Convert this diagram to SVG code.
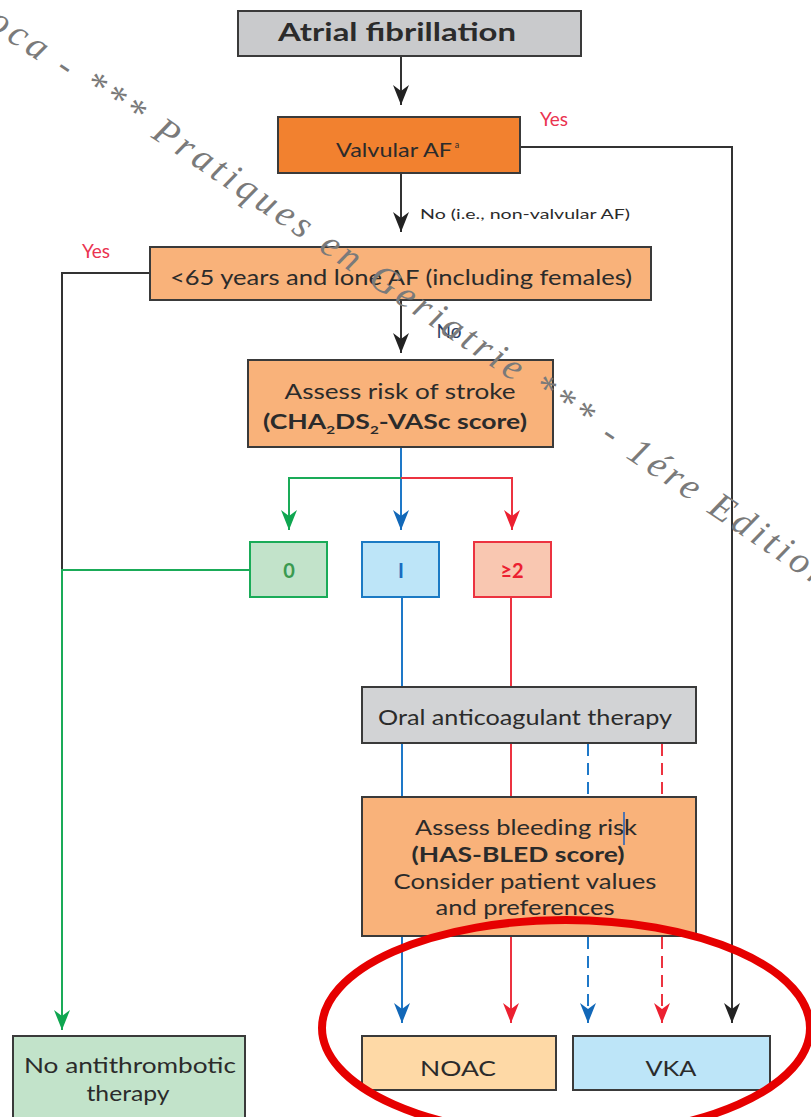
<svg xmlns="http://www.w3.org/2000/svg" width="811" height="1117" viewBox="0 0 811 1117">
<defs>
<style>
.box{stroke:#3a3a3a;stroke-width:2}
.t{font-family:Lato,"Open Sans","Liberation Sans",sans-serif;fill:#2b2b2b;text-anchor:middle}
.b{font-weight:bold}
.yes{font-family:Lato,"Liberation Sans",sans-serif;fill:#ea3350;font-size:19px}
.k{stroke:#333;stroke-width:2;fill:none}
.bl{stroke:#1e78c8;stroke-width:2;fill:none}
.rd{stroke:#ec3340;stroke-width:2;fill:none}
.gr{stroke:#1aab58;stroke-width:2;fill:none}
.dash{stroke-dasharray:12 7}
.wm{font-family:"Liberation Serif","DejaVu Serif",serif;font-style:italic;fill:#7a7a7a;font-size:38px;letter-spacing:4.5px}
</style>
<marker id="ak" markerUnits="userSpaceOnUse" markerWidth="22" markerHeight="18" viewBox="-20 -9 22 18" refX="0" refY="0" orient="auto"><path d="M0,0 L-20,-8 L-14,0 L-20,8 Z" fill="#222"/></marker>
<marker id="ab" markerUnits="userSpaceOnUse" markerWidth="22" markerHeight="18" viewBox="-20 -9 22 18" refX="0" refY="0" orient="auto"><path d="M0,0 L-20,-8 L-14,0 L-20,8 Z" fill="#1268b8"/></marker>
<marker id="ar" markerUnits="userSpaceOnUse" markerWidth="22" markerHeight="18" viewBox="-20 -9 22 18" refX="0" refY="0" orient="auto"><path d="M0,0 L-20,-8 L-14,0 L-20,8 Z" fill="#ec2030"/></marker>
<marker id="ag" markerUnits="userSpaceOnUse" markerWidth="22" markerHeight="18" viewBox="-20 -9 22 18" refX="0" refY="0" orient="auto"><path d="M0,0 L-20,-8 L-14,0 L-20,8 Z" fill="#0fa650"/></marker>
</defs>
<rect width="811" height="1117" fill="#ffffff"/>

<g id="connectors">
<line class="k" x1="401" y1="57" x2="401" y2="105" marker-end="url(#ak)"/>
<line class="k" x1="401" y1="173" x2="401" y2="232" marker-end="url(#ak)"/>
<polyline class="k" points="520,147 732,147 732,1023" marker-end="url(#ak)"/>
<line class="k" x1="401" y1="301" x2="401" y2="353" marker-end="url(#ak)"/>
<polyline class="k" points="150,273 62,273 62,570"/>
<line class="bl" x1="401" y1="448" x2="401" y2="530" marker-end="url(#ab)"/>
<polyline class="gr" points="401,478 289,478 289,530" marker-end="url(#ag)"/>
<polyline class="rd" points="401,478 512,478 512,530" marker-end="url(#ar)"/>
<polyline class="gr" points="249,570 62,570 62,1030" marker-end="url(#ag)"/>
<line class="bl" x1="402" y1="597" x2="402" y2="1023" marker-end="url(#ab)"/>
<line class="rd" x1="511" y1="597" x2="511" y2="1023" marker-end="url(#ar)"/>
<line class="bl dash" x1="588" y1="744" x2="588" y2="797"/>
<line class="rd dash" x1="662" y1="744" x2="662" y2="797"/>
<line class="bl dash" x1="588" y1="937" x2="588" y2="1023" marker-end="url(#ab)"/>
<line class="rd dash" x1="662" y1="937" x2="662" y2="1023" marker-end="url(#ar)"/>
</g>

<g id="n-af">
<rect class="box" x="238" y="11" width="343" height="45" fill="#c9cacc"/>
<text class="t b" x="397" y="41" font-size="24" textLength="238" lengthAdjust="spacingAndGlyphs">Atrial fibrillation</text>
</g>

<g id="n-valvular">
<rect class="box" x="278" y="117" width="242" height="56" fill="#f2812f"/>
<text class="t" x="394" y="157" font-size="20" textLength="116" lengthAdjust="spacingAndGlyphs">Valvular AF</text>
<text class="t" x="457" y="148" font-size="9">a</text>
<text class="yes" x="540" y="126">Yes</text>
<text class="t" x="525" y="219" font-size="14" textLength="210" lengthAdjust="spacingAndGlyphs">No (i.e., non-valvular AF)</text>
</g>

<g id="n-lone">
<rect class="box" x="150" y="247" width="501" height="53" fill="#f9b27a"/>
<text class="t" x="401" y="285" font-size="22" textLength="462" lengthAdjust="spacingAndGlyphs">&lt;65 years and lone AF (including females)</text>
<text class="yes" x="82" y="258">Yes</text>
<text class="t" x="449" y="338" font-size="19" style="fill:#2c3e66">No</text>
</g>

<g id="n-stroke">
<rect class="box" x="248" y="360" width="305" height="87" fill="#f9b27a"/>
<text class="t" x="400" y="399" font-size="21" textLength="231" lengthAdjust="spacingAndGlyphs">Assess risk of stroke</text>
<text class="t b" x="395" y="429" font-size="21" textLength="264" lengthAdjust="spacingAndGlyphs">(CHA<tspan font-size="12" dy="5">2</tspan><tspan dy="-5">DS</tspan><tspan font-size="12" dy="5">2</tspan><tspan dy="-5">-VASc score)</tspan></text>
</g>

<g id="n-0">
<rect x="250" y="542" width="77" height="55" fill="#c2e3ca" stroke="#1aab58" stroke-width="2"/>
<text class="t b" x="289" y="578" font-size="20" style="fill:#3a9a50">0</text>
</g>
<g id="n-1">
<rect x="362" y="542" width="77" height="55" fill="#bde5f8" stroke="#1b7ac4" stroke-width="2"/>
<text class="t b" x="401" y="578" font-size="20" style="fill:#1a6cc0">I</text>
</g>
<g id="n-2">
<rect x="474" y="542" width="77" height="55" fill="#f9c7b1" stroke="#ec3340" stroke-width="2"/>
<text class="t b" x="512" y="578" font-size="20" style="fill:#ec2030">≥2</text>
</g>

<g id="n-oral">
<rect class="box" x="362" y="687" width="334" height="56" fill="#d2d3d5"/>
<text class="t" x="525" y="725" font-size="21" textLength="294" lengthAdjust="spacingAndGlyphs">Oral anticoagulant therapy</text>
</g>

<g id="n-bleeding">
<rect class="box" x="362" y="797" width="334" height="139" fill="#f9b27a"/>
<text class="t" x="526" y="835" font-size="21" textLength="222" lengthAdjust="spacingAndGlyphs">Assess bleeding risk</text>
<line x1="624" y1="812" x2="624" y2="845" stroke="#1a5fc0" stroke-width="1.5"/>
<text class="t b" x="518" y="862" font-size="21" textLength="213" lengthAdjust="spacingAndGlyphs">(HAS-BLED score)</text>
<text class="t" x="525" y="889" font-size="21" textLength="263" lengthAdjust="spacingAndGlyphs">Consider patient values</text>
<text class="t" x="525" y="915" font-size="21" textLength="179" lengthAdjust="spacingAndGlyphs">and preferences</text>
</g>

<g id="n-none">
<rect class="box" x="13" y="1036" width="232" height="82" fill="#c2e3ca"/>
<text class="t" x="130" y="1073" font-size="21" textLength="212" lengthAdjust="spacingAndGlyphs">No antithrombotic</text>
<text class="t" x="128" y="1101" font-size="21" textLength="83" lengthAdjust="spacingAndGlyphs">therapy</text>
</g>

<g id="n-noac">
<rect class="box" x="362" y="1036" width="194" height="54" fill="#fed9a6"/>
<text class="t" x="458" y="1076" font-size="22" textLength="76" lengthAdjust="spacingAndGlyphs">NOAC</text>
</g>
<g id="n-vka">
<rect class="box" x="573" y="1036" width="197" height="54" fill="#bde5f8"/>
<text class="t" x="671" y="1076" font-size="22" textLength="51" lengthAdjust="spacingAndGlyphs">VKA</text>
</g>

<text class="wm" transform="translate(-14,26) rotate(34)">oca - *** Pratiques en Geriatrie *** - 1ére Edition</text>

<ellipse cx="566" cy="1028" rx="244" ry="108" fill="none" stroke="#e60000" stroke-width="8"/>
</svg>
